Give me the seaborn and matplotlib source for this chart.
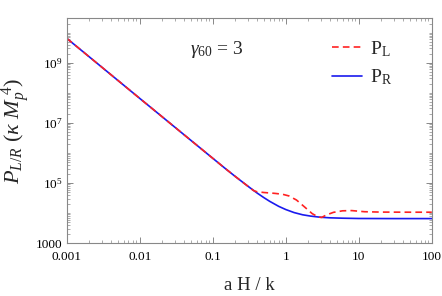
import numpy as np
import pandas as pd
import seaborn as sns
import matplotlib.pyplot as plt
from matplotlib.ticker import FixedLocator, LogLocator, NullFormatter

# --- DATA ---
x_R = [0.001, 0.01, 0.1, 0.15, 0.2, 0.3, 0.4, 0.5, 0.6, 0.8, 1.0, 1.3, 1.7,
       2.2, 3.0, 4.0, 6.0, 10.0, 30.0, 100.0]
P_R = [6.5e9, 6.5e7, 6.6e5, 2.95e5, 1.69e5, 7.9e4, 4.7e4, 3.25e4, 2.45e4, 1.66e4,
       1.3e4, 1.03e4, 8.7e3, 7.85e3, 7.2e3, 6.9e3, 6.7e3, 6.55e3, 6.5e3, 6.5e3]

x_L = [0.001, 0.01, 0.1, 0.15, 0.2, 0.3, 0.36, 0.4, 0.5, 0.7, 0.9, 1.1, 1.4, 1.8,
       2.3, 2.8, 3.1, 3.6, 4.5, 6.0, 8.0, 12.0, 20.0, 50.0, 100.0]
P_L = [6.5e9, 6.5e7, 6.6e5, 2.95e5, 1.69e5, 7.9e4, 5.6e4, 5.1e4, 4.8e4, 4.5e4,
       4.2e4, 3.7e4, 2.7e4, 1.6e4, 9.5e3, 7.3e3, 7.1e3, 8.6e3, 1.05e4, 1.18e4,
       1.2e4, 1.1e4, 1.07e4, 1.06e4, 1.06e4]

x_ticks = [0.001, 0.01, 0.1, 1, 10, 100]
x_labels = ["0.001", "0.01", "0.1", "1", "10", "100"]
y_ticks = [1e3, 1e5, 1e7, 1e9]
y_labels = ["1000", r"$10^5$", r"$10^7$", r"$10^9$"]

df_L = pd.DataFrame({"x": x_L, "P": P_L})
df_R = pd.DataFrame({"x": x_R, "P": P_R})

# --- STYLE ---
sns.set_style("ticks")
plt.rcParams["font.family"] = ["Liberation Serif", "DejaVu Serif"]
plt.rcParams["mathtext.fontset"] = "custom"
plt.rcParams["mathtext.rm"] = "Liberation Serif"
plt.rcParams["mathtext.it"] = "Liberation Serif:italic"
plt.rcParams["mathtext.bf"] = "Liberation Serif:bold"

fig = plt.figure(figsize=(4.42, 2.96), dpi=100)
ax = fig.add_axes([0.151, 0.179, 0.826, 0.759])

# blue first so the red dashes sit on top where the curves overlap
sns.lineplot(data=df_R, x="x", y="P", ax=ax, color="#1a1aee", lw=1.2,
             label=r"P$_{\rm R}$")
sns.lineplot(data=df_L, x="x", y="P", ax=ax, color="#ff2222", lw=1.2,
             linestyle=(0, (4, 2.5)), label=r"P$_{\rm L}$")

ax.set_xscale("log")
ax.set_yscale("log")
ax.set_xlim(0.001, 100)
ax.set_ylim(1e3, 3e10)

ax.xaxis.set_major_locator(FixedLocator(x_ticks))
ax.set_xticklabels(x_labels)
ax.xaxis.set_minor_locator(LogLocator(base=10, subs=np.arange(2, 10), numticks=20))
ax.xaxis.set_minor_formatter(NullFormatter())

ax.yaxis.set_major_locator(FixedLocator(y_ticks))
ax.set_yticklabels(y_labels)
ax.yaxis.set_minor_locator(LogLocator(base=10, subs=np.arange(1, 10), numticks=20))
ax.yaxis.set_minor_formatter(NullFormatter())

frame = "#888888"
for s in ax.spines.values():
    s.set_color(frame)
    s.set_linewidth(0.8)
ax.tick_params(which="both", direction="in", top=True, right=True, colors=frame,
               labelcolor="black", labelsize=9.5)
ax.tick_params(axis="x", which="major", pad=5.5)
ax.tick_params(axis="y", which="major", pad=3)
ax.tick_params(which="major", length=4, width=0.7)
ax.tick_params(which="minor", length=2, width=0.5)

ax.set_xlabel("a H / k", fontsize=13.5, labelpad=10)
ax.set_ylabel(r"$P_{L/R}\ (\kappa\ M_p^{\ 4})$", fontsize=16, labelpad=3)

ax.text(0.41, 0.86, r"$\gamma_{60}$ = 3", transform=ax.transAxes, fontsize=14,
        ha="center", va="center")

handles, labels = ax.get_legend_handles_labels()
ax.legend(handles[::-1], labels[::-1], loc="upper right",
          bbox_to_anchor=(0.94, 0.985), frameon=False, fontsize=14,
          handlelength=1.5, handletextpad=0.45, labelspacing=0.45)

fig.savefig("out.png", dpi=100)
